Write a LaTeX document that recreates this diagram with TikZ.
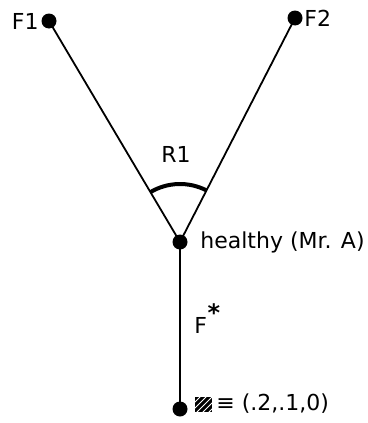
\documentclass[tikz,border=0pt]{standalone}
\usepackage{fontspec}
\setmainfont{DejaVu Sans}
\usetikzlibrary{patterns,calc}
\begin{document}
\begin{tikzpicture}[x=0.5pt,y=-0.5pt,
  dot/.style={circle,fill=black,inner sep=0pt,minimum size=7.5pt},
  lbl/.style={inner sep=0pt,font=\fontsize{11}{13}\selectfont},
  edge/.style={line width=0.9pt}]
\useasboundingbox (0,0) rectangle (368,423);
\node[dot] (f1) at (49,21) {};
\node[dot] (f2) at (295,18) {};
\node[dot] (h) at (180,242) {};
\node[dot] (b) at (180,409) {};
\draw[edge] (f1.center) -- (h.center);
\draw[edge] (f2.center) -- (h.center);
\draw[edge] (h.center) -- (b.center);
\draw[line width=2pt] ($(h.center)+(-120.7:58)$) arc[start angle=-120.7,end angle=-62.8,radius=58];
\node[lbl,anchor=east] (lf1) at (39,21) {F1};
\node[lbl,anchor=west] (lf2) at (304,18) {F2};
\node[lbl] (lr1) at (176,154) {R1};
\node[lbl,anchor=west] (lh) at (200,242) {healthy (Mr. A)};
\node[lbl,anchor=west] (lfs) at (194,325) {F};
\node[lbl,font=\fontsize{12}{13}\selectfont\bfseries] (star) at (214,313) {*};
\node[draw,fill=black,inner sep=0pt,minimum width=8pt,minimum height=7pt,anchor=west] (sq) at (195,404) {};
\fill[pattern=north east lines,pattern color=white] (sq.south west) rectangle (sq.north east);
\node[lbl,anchor=west] (lb) at (216,404) {≡ (.2,.1,0)};
\end{tikzpicture}
\end{document}
